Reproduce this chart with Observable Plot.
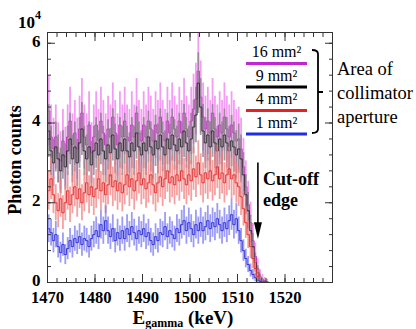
<!DOCTYPE html>
<html>
<head>
<meta charset="utf-8">
<script src="https://cdn.jsdelivr.net/npm/d3@7"></script>
<script src="https://cdn.jsdelivr.net/npm/@observablehq/plot@0.6"></script>
<style>
  html, body { margin: 0; padding: 0; background: #fff; }
  svg { display: block; }
</style>
</head>
<body>
<div id="chart"></div>
<script>
// Histogram bins: 0.5 keV wide, starting at 1470 keV
const binStart = 1470;
const binWidth = 0.5;

// Photon counts (units of 10^4) per bin
const counts16 = [
  4.3, 3.65, 3.35, 3.65,  3.25, 3.05, 3.55, 3.15,  3.65, 4.05, 3.45, 3.75,
  3.35, 3.85, 4.25, 3.65,  3.45, 3.95, 3.25, 3.65,  3.95, 3.55, 4.05, 3.75,
  3.45, 3.85, 3.65, 4.15,  3.75, 3.45, 3.95, 3.65,  4.05, 3.65, 3.55, 3.95,
  3.65, 4.25, 3.75, 3.55,  3.95, 3.65, 4.05, 3.85,  3.55, 3.95, 3.75, 4.15,
  3.75, 3.55, 4.05, 3.75,  4.15, 3.85, 3.65, 4.05,  3.75, 4.25, 3.85, 3.65,
  4.05, 4.35, 4.6, 5.3,    4.65, 4.15, 3.85, 4.05,  3.75, 4.25, 3.85, 3.65,
  3.95, 3.75, 4.15, 3.85,  3.65, 3.95, 3.75, 3.55,  3.6, 3.35, 2.9, 2.4,
  1.95, 1.5, 1.05, 0.65,   0.35, 0.15, 0.08, 0.04,  0.02, 0,
  0, 0, 0, 0, 0, 0, 0, 0, 0, 0, 0, 0, 0, 0, 0, 0, 0, 0, 0, 0, 0, 0, 0, 0, 0, 0
];
const counts9 = [
  3.8, 3.3, 3.0, 3.4,   3.1, 2.8, 3.2, 2.9,   3.3, 3.6, 3.1, 3.4,
  3.0, 3.5, 3.85, 3.3,  3.1, 3.4, 2.95, 3.3,  3.5, 3.2, 3.6, 3.3,
  3.1, 3.45, 3.25, 3.7, 3.35, 3.1, 3.5, 3.3,  3.6, 3.3, 3.15, 3.5,
  3.3, 3.75, 3.4, 3.2,  3.5, 3.3, 3.65, 3.4,  3.2, 3.55, 3.35, 3.7,
  3.4, 3.2, 3.6, 3.35,  3.7, 3.45, 3.3, 3.6,  3.4, 3.8, 3.5, 3.3,
  3.6, 3.9, 4.2, 5.0,   4.4, 3.8, 3.5, 3.7,   3.4, 3.8, 3.5, 3.3,
  3.6, 3.4, 3.7, 3.5,   3.3, 3.55, 3.4, 3.2,  3.35, 3.1, 2.7, 2.2,
  1.8, 1.3, 0.9, 0.5,   0.25, 0.1, 0.04, 0.01, 0, 0,
  0, 0, 0, 0, 0, 0, 0, 0, 0, 0, 0, 0, 0, 0, 0, 0, 0, 0, 0, 0, 0, 0, 0, 0, 0, 0
];
const counts4 = [
  2.3, 2.6, 2.2, 2.0,   1.8, 2.1, 1.75, 2.0,  2.3, 1.95, 2.2, 2.4,
  2.1, 2.35, 2.0, 2.25, 2.5, 2.2, 2.4, 2.15,  2.35, 2.6, 2.3, 2.5,
  2.2, 2.45, 2.7, 2.4,  2.55, 2.3, 2.5, 2.25,  2.45, 2.7, 2.4, 2.6,
  2.3, 2.55, 2.75, 2.45, 2.6, 2.35, 2.5, 2.7,  2.45, 2.25, 2.5, 2.65,
  2.4, 2.6, 2.8, 2.5,   2.65, 2.45, 2.7, 2.55, 2.8, 2.6, 2.45, 2.7,
  2.55, 2.85, 2.65, 3.0, 2.7, 2.5, 2.75, 2.6,  2.8, 2.55, 2.7, 2.9,
  2.6, 2.75, 2.5, 2.7,  2.85, 2.6, 2.7, 2.5,  2.4, 2.15, 1.85, 1.5,
  1.2, 0.9, 0.6, 0.35,  0.15, 0.06, 0.02, 0,  0, 0,
  0, 0, 0, 0, 0, 0, 0, 0, 0, 0, 0, 0, 0, 0, 0, 0, 0, 0, 0, 0, 0, 0, 0, 0, 0, 0
];
const counts1 = [
  1.35, 1.25, 1.05, 1.2, 0.9, 0.75, 0.95, 0.7, 0.85, 1.05, 0.9, 1.1,
  1.0, 1.15, 0.95, 1.1,  1.05, 0.9, 1.1, 1.2,  1.3, 1.15, 1.45, 1.3,
  1.55, 1.3, 1.15, 1.35, 1.05, 1.25, 1.1, 1.3, 1.1, 1.35, 1.2, 1.4,
  1.25, 1.1, 1.3, 1.2,  1.35, 1.15, 1.25, 1.05, 0.95, 1.15, 1.05, 1.25,
  1.2, 1.4, 1.15, 1.3,  1.2, 1.1, 1.35, 1.25,  1.45, 1.55, 1.3, 1.5,
  1.35, 1.2, 1.45, 1.3, 1.5, 1.3, 1.4, 1.55,   1.35, 1.5, 1.4, 1.6,
  1.45, 1.3, 1.5, 1.35, 1.55, 1.7, 1.45, 1.6,  1.3, 1.05, 0.8, 0.6,
  0.45, 0.3, 0.2, 0.12, 0.06, 0.03, 0.01, 0,   0, 0,
  0, 0, 0, 0, 0, 0, 0, 0, 0, 0, 0, 0, 0, 0, 0, 0, 0, 0, 0, 0, 0, 0, 0, 0, 0, 0
];

// Series labels and per-series error-bar scale (half-width ~ k * sqrt(counts))
const seriesLabels = ["16 mm²", "9 mm²", "4 mm²", "1 mm²"];
const seriesValues = [counts16, counts9, counts4, counts1];
const errScale = [0.42, 0.34, 0.32, 0.30];
const barColors  = ["#f07af0", "#808080", "#f28080", "#7b7bf0"];
const lineColors = ["#cc22cc", "#2a2a2a", "#e02a2a", "#2a2ad8"];
const legendColors = ["#c026d3", "#000000", "#e8201f", "#1f2fe0"];

// Axis ticks
const xMajor = [1470, 1480, 1490, 1500, 1510, 1520, 1530];
const xLabels = [1470, 1480, 1490, 1500, 1510, 1520];
const xMinor = d3.range(1470, 1531, 2);
const yMajor = [0, 2, 4, 6];
const yMinor = d3.range(0, 6.3, 0.4);

const serif = "Liberation Serif";

const dataMarks = seriesValues.flatMap((vals, s) => {
  const data = vals.map((v, i) => {
    const e = errScale[s] * Math.sqrt(v);
    return {E: binStart + binWidth * (i + 0.5), v, lo: Math.max(0, v - e), hi: v + e};
  });
  return [
    Plot.ruleX(data.filter(d => d.v > 0), {x: "E", y1: "lo", y2: "hi", stroke: barColors[s], strokeWidth: 1.8, strokeOpacity: 0.75}),
    Plot.lineY(data, {x: "E", y: "v", curve: "step", stroke: lineColors[s], strokeWidth: 1, strokeOpacity: 0.9})
  ];
});

const noText = () => "";
const plot = Plot.plot({
  width: 416,
  height: 329,
  marginLeft: 47,
  marginRight: 84,
  marginTop: 32,
  marginBottom: 47,
  x: {domain: [1470, 1530]},
  y: {domain: [0, 6.27]},
  style: {fontFamily: serif, background: "#fff", overflow: "visible"},
  marks: [
    ...dataMarks,
    Plot.frame({stroke: "#333", strokeWidth: 1}),
    // bottom / top x ticks (inward)
    Plot.axisX({anchor: "bottom", ticks: xMinor, tickSize: -4, tickFormat: noText, label: null, stroke: "#333"}),
    Plot.axisX({anchor: "bottom", ticks: xMajor, tickSize: -8, tickFormat: noText, label: null, stroke: "#333"}),
    Plot.axisX({anchor: "top", ticks: xMinor, tickSize: -4, tickFormat: noText, label: null, stroke: "#333"}),
    Plot.axisX({anchor: "top", ticks: xMajor, tickSize: -8, tickFormat: noText, label: null, stroke: "#333"}),
    Plot.axisX({anchor: "bottom", ticks: xLabels, tickSize: 0, tickPadding: 9, label: null,
      tickFormat: d => String(d), fontSize: 16.5, fontWeight: "bold", fill: "#000"}),
    // left / right y ticks (inward)
    Plot.axisY({anchor: "left", ticks: yMinor, tickSize: -4, tickFormat: noText, label: null, stroke: "#333"}),
    Plot.axisY({anchor: "left", ticks: yMajor, tickSize: -8, tickFormat: noText, label: null, stroke: "#333"}),
    Plot.axisY({anchor: "right", ticks: yMinor, tickSize: -4, tickFormat: noText, label: null, stroke: "#333"}),
    Plot.axisY({anchor: "right", ticks: yMajor, tickSize: -8, tickFormat: noText, label: null, stroke: "#333"}),
    Plot.axisY({anchor: "left", ticks: yMajor, tickSize: 0, tickPadding: 7, dy: -2, label: null,
      tickFormat: d => String(d), fontSize: 17, fontWeight: "bold", fill: "#000"})
  ]
});
document.getElementById("chart").appendChild(plot);

// Annotations and labels in SVG
const svg = d3.select(plot);
const sx = plot.scale("x"), sy = plot.scale("y");
const px = v => sx.apply(v), py = v => sy.apply(v);

function txt(x, y, anchor, size, weight) {
  return svg.append("text").attr("x", x).attr("y", y)
    .attr("text-anchor", anchor).attr("font-family", serif)
    .attr("font-size", size).attr("font-weight", weight || "normal").attr("fill", "#000");
}

// 10^4 exponent
const exp = txt(18, 28, "start", 17, "bold").text("10");
exp.append("tspan").attr("dy", -9).attr("font-size", 12).text("4");

// y label
svg.append("text")
  .attr("transform", "translate(17,160) rotate(-90)")
  .attr("text-anchor", "middle").attr("dominant-baseline", "middle")
  .attr("font-family", serif).attr("font-weight", "bold").attr("font-size", 18)
  .text("Photon counts");

// x label
const xl = txt(183, 324, "middle", 19, "bold");
xl.append("tspan").text("E");
xl.append("tspan").attr("font-size", 12).attr("dy", 2.5).text("gamma");
xl.append("tspan").attr("dy", -2.5).text(" (keV)");

// Legend
const legendX0 = 246, legendX1 = 307, legendTop = 57, rowH = 23.5;
seriesLabels.forEach((lab, i) => {
  const yb = legendTop + i * rowH;
  txt((legendX0 + legendX1) / 2, yb, "middle", 16).text(lab);
  svg.append("line").attr("x1", legendX0).attr("x2", legendX1)
    .attr("y1", yb + 6.5).attr("y2", yb + 6.5)
    .attr("stroke", legendColors[i]).attr("stroke-width", 3);
});
// bracket
svg.append("path")
  .attr("d", "M312,50 Q318,50 318,54 L318,129 Q318,133 312,133 M318,92 L323,92")
  .attr("fill", "none").attr("stroke", "#000").attr("stroke-width", 1.8);
["Area of", "collimator", "aperture"].forEach((t, i) => {
  txt(337, 75 + i * 24, "start", 18.5).text(t);
});

// Cut-off edge arrow
const ax = px(1514.4);
svg.append("line").attr("x1", ax).attr("x2", ax).attr("y1", py(3.0)).attr("y2", py(1.45))
  .attr("stroke", "#000").attr("stroke-width", 1.6);
svg.append("path")
  .attr("d", `M${ax - 4},${py(1.5)} L${ax + 4},${py(1.5)} L${ax},${py(1.08)} Z`)
  .attr("fill", "#000");
["Cut-off", "edge"].forEach((t, i) => {
  txt(263, 185 + i * 21, "start", 18, "bold").text(t);
});
</script>
</body>
</html>
